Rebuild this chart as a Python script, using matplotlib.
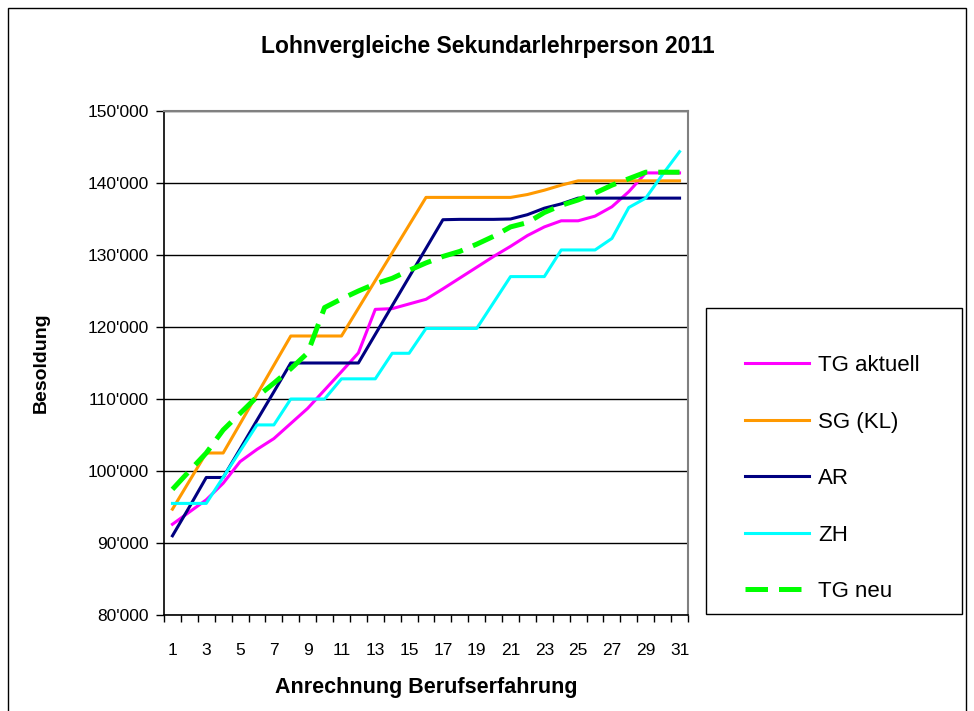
#!/usr/bin/env python3
"""
Lohnvergleiche Sekundarlehrperson 2011 - salary comparison line chart.
"""

import matplotlib
matplotlib.use('Agg')
import matplotlib.pyplot as plt
from matplotlib.ticker import FuncFormatter, FixedLocator
from matplotlib.patches import Rectangle

# Anrechnung Berufserfahrung (categories 1..31)
years = list(range(1, 32))

tg_aktuell = [92600, 94300, 96000, 98300, 101300, 103000, 104500, 106600, 108700, 111250,
              113800, 116400, 122450, 122550, 123200, 123850, 125300, 126800, 128300, 129800,
              131200, 132700, 133900, 134750, 134750, 135400, 136700, 138800, 141400, 141400,
              141400]
sg_kl = [94700, 98600, 102500, 102500, 106560, 110625, 114690, 118750, 118750, 118750,
         118750, 122600, 126450, 130300, 134150, 138000, 138000, 138000, 138000, 138000,
         138000, 138400, 139000, 139700, 140300, 140300, 140300, 140300, 140300, 140300,
         140300]
ar = [91000, 95000, 99100, 99100, 103050, 107050, 111000, 115000, 115000, 115000,
      115000, 115000, 118980, 122960, 126940, 130920, 134900, 134950, 134950, 134950,
      135000, 135600, 136500, 137100, 137900, 137900, 137900, 137900, 137900, 137900,
      137900]
zh = [95500, 95500, 95500, 99130, 102770, 106400, 106400, 110000, 110000, 110000,
      112800, 112800, 112800, 116350, 116350, 119800, 119800, 119800, 119800, 123400,
      127000, 127000, 127000, 130700, 130700, 130700, 132300, 136600, 137900, 141200,
      144350]
tg_neu = [97450, 100000, 102500, 105700, 108000, 110300, 112200, 114200, 116400, 122700,
          123900, 125000, 126000, 126760, 127870, 128900, 129800, 130500, 131500, 132600,
          133900, 134500, 135900, 136900, 137650, 138600, 139700, 140600, 141500, 141500,
          141500]

series_names = ["TG aktuell", "SG (KL)", "AR", "ZH", "TG neu"]
series_colors = ["#FF00FF", "#FF9900", "#000080", "#00FFFF", "#00FF00"]

y_ticks = [80000, 90000, 100000, 110000, 120000, 130000, 140000, 150000]
x_labels = list(range(1, 32, 2))

plt.rcParams['font.family'] = ['Liberation Sans', 'DejaVu Sans']

W, H = 974, 711
fig = plt.figure(figsize=(W / 100, H / 100), dpi=100)

# chart area frame (bottom edge lies outside the image)
fig.patches.append(Rectangle((8 / W, -0.01), 958 / W, 1.0 - 8 / H + 0.01,
                             transform=fig.transFigure, fill=False,
                             edgecolor='black', linewidth=1.0))

ax = fig.add_axes([164 / W, 1 - 615 / H, (688 - 164) / W, (615 - 111) / H])

data = [tg_aktuell, sg_kl, ar, zh, tg_neu]
handles = []
for name, vals, col in zip(series_names, data, series_colors):
    if name == "TG neu":
        h, = ax.plot(years, vals, color=col, linewidth=3.6,
                     linestyle=(0, (4.5, 2.2)), label=name, zorder=4)
    else:
        h, = ax.plot(years, vals, color=col, linewidth=2.2, label=name, zorder=3)
    handles.append(h)

ax.set_xlim(0.5, 31.5)
ax.set_ylim(80000, 150000)

ax.set_yticks(y_ticks)
ax.yaxis.set_major_formatter(FuncFormatter(lambda v, p: f"{int(v):,}".replace(",", "'")))
ax.tick_params(axis='y', direction='out', length=6, width=1, labelsize=12.5, pad=5)

ax.xaxis.set_major_locator(FixedLocator(x_labels))
ax.xaxis.set_minor_locator(FixedLocator([i + 0.5 for i in range(0, 32)]))
ax.tick_params(axis='x', which='major', length=0, labelsize=12.5, pad=20)
ax.tick_params(axis='x', which='minor', direction='out', length=5, width=1)

ax.grid(axis='y', color='#000000', linewidth=1.0, zorder=1)
ax.set_axisbelow(True)
for side in ['top', 'right']:
    ax.spines[side].set_color('#808080')
    ax.spines[side].set_linewidth(1.5)
for side in ['left', 'bottom']:
    ax.spines[side].set_color('black')
    ax.spines[side].set_linewidth(1.2)

ax.set_xlabel("Anrechnung Berufserfahrung", fontsize=15.5, fontweight='bold', labelpad=14)
ax.set_ylabel("Besoldung", fontsize=14, fontweight='bold', labelpad=27)

fig.text(488 / W, 1 - 46 / H, "Lohnvergleiche Sekundarlehrperson 2011",
         ha='center', va='center', fontsize=16.5, fontweight='bold')

# legend box drawn separately so its size matches the reference
fig.patches.append(Rectangle((706 / W, 1 - 614 / H), (962 - 706) / W, (614 - 308) / H,
                             transform=fig.transFigure, fill=False,
                             edgecolor='black', linewidth=1.0))
leg = fig.legend(handles=handles, loc='upper left',
                 bbox_to_anchor=(745 / W, 1 - 355 / H), fontsize=16,
                 frameon=False, handlelength=2.9, handletextpad=0.4,
                 labelspacing=1.6, borderpad=0, borderaxespad=0)

plt.savefig("out.png", dpi=100)
plt.close()
